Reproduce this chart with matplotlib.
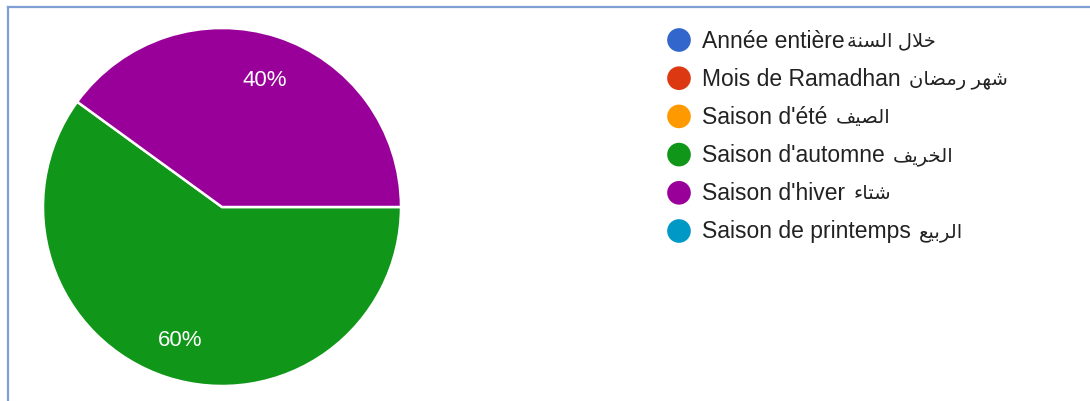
import matplotlib
matplotlib.use('Agg')
import matplotlib.pyplot as plt

# answers: French label, Arabic label, share (%), colour
labels_fr = ["Année entière", "Mois de Ramadhan ", "Saison d'été ",
             "Saison d'automne ", "Saison d'hiver ", "Saison de printemps "]
labels_ar = ["خلال السنة", "شهر رمضان", "الصيف", "الخريف", "شتاء", "الربيع"]
shares = [0, 0, 0, 60, 40, 0]
colors = ["#3366cc", "#dc3912", "#ff9900", "#109618", "#990099", "#0099c6"]

# Arabic presentation forms: isolated, final, initial, medial
FORMS = {
    'ا': ('\uFE8D', '\uFE8E', None, None),
    'ب': ('\uFE8F', '\uFE90', '\uFE91', '\uFE92'),
    'ة': ('\uFE93', '\uFE94', None, None),
    'ت': ('\uFE95', '\uFE96', '\uFE97', '\uFE98'),
    'خ': ('\uFEA5', '\uFEA6', '\uFEA7', '\uFEA8'),
    'ر': ('\uFEAD', '\uFEAE', None, None),
    'س': ('\uFEB1', '\uFEB2', '\uFEB3', '\uFEB4'),
    'ش': ('\uFEB5', '\uFEB6', '\uFEB7', '\uFEB8'),
    'ص': ('\uFEB9', '\uFEBA', '\uFEBB', '\uFEBC'),
    'ض': ('\uFEBD', '\uFEBE', '\uFEBF', '\uFEC0'),
    'ع': ('\uFEC9', '\uFECA', '\uFECB', '\uFECC'),
    'ف': ('\uFED1', '\uFED2', '\uFED3', '\uFED4'),
    'ل': ('\uFEDD', '\uFEDE', '\uFEDF', '\uFEE0'),
    'م': ('\uFEE1', '\uFEE2', '\uFEE3', '\uFEE4'),
    'ن': ('\uFEE5', '\uFEE6', '\uFEE7', '\uFEE8'),
    'ه': ('\uFEE9', '\uFEEA', '\uFEEB', '\uFEEC'),
    'ي': ('\uFEF1', '\uFEF2', '\uFEF3', '\uFEF4'),
    'ء': ('\uFE80', None, None, None),
    'لا': ('\uFEFB', '\uFEFC', None, None),
}


def shape_arabic(text):
    # matplotlib has no text shaping, so join the letters by hand and flip to visual order
    chars = []
    i = 0
    while i < len(text):
        if text[i] == 'ل' and i + 1 < len(text) and text[i + 1] == 'ا':
            chars.append('لا')
            i += 2
        else:
            chars.append(text[i])
            i += 1
    out = []
    for k, c in enumerate(chars):
        if c not in FORMS:
            out.append(c)
            continue
        prev = chars[k - 1] if k > 0 else None
        nxt = chars[k + 1] if k + 1 < len(chars) else None
        join_prev = (prev in FORMS and FORMS[prev][2] is not None
                     and FORMS[c][1] is not None)
        join_next = (nxt in FORMS and FORMS[c][2] is not None
                     and FORMS[nxt][1] is not None)
        iso, fin, ini, med = FORMS[c]
        if join_prev and join_next:
            out.append(med)
        elif join_prev:
            out.append(fin)
        elif join_next:
            out.append(ini)
        else:
            out.append(iso)
    return ''.join(out)[::-1]


W, H = 1090, 402
fig = plt.figure(figsize=(W / 100, H / 100), dpi=100)
fonts = ['Liberation Sans', 'DejaVu Sans']

# pie, centred at (222, 208) px with radius 179 px
r = 179
ax = fig.add_axes([(222 - r) / W, (H - 208 - r) / H, 2 * r / W, 2 * r / H])
vals = [v for v in shares if v > 0]
cols = [c for v, c in zip(shares, colors) if v > 0]
wedges, texts, autotexts = ax.pie(
    vals, colors=cols, startangle=144, counterclock=True,
    autopct='%1.0f%%', pctdistance=0.765,
    wedgeprops=dict(edgecolor='white', linewidth=1.8),
    textprops=dict(color='white', fontsize=16, family=fonts))
for t in autotexts:
    # nudge the percentages down a couple of pixels
    t.set_y(t.get_position()[1] - 0.015)
ax.set_xlim(-1, 1)
ax.set_ylim(-1, 1)
ax.set_aspect('equal')
ax.axis('off')

# overlay in pixel units for the legend and the frame
ov = fig.add_axes([0, 0, 1, 1], zorder=-1)
ov.set_xlim(0, W)
ov.set_ylim(H, 0)
ov.axis('off')

ov.plot([8, W], [8, 8], color='#7f9fd4', lw=1.6)
ov.plot([8, 8], [8, H], color='#7f9fd4', lw=1.6)

fig.canvas.draw()
renderer = fig.canvas.get_renderer()

row_y0, row_step = 41, 38.2
for i, (fr, ar, c) in enumerate(zip(labels_fr, labels_ar, colors)):
    y = row_y0 + i * row_step
    ov.scatter([679], [y], s=290, color=c, edgecolors='none')
    t = ov.text(702, y, fr, va='center', ha='left',
                fontsize=16.5, color='#222222', family=fonts)
    # Arabic part set a bit smaller, right after the French text
    x_end = t.get_window_extent(renderer).x1
    ov.text(x_end + 2, y + 1, shape_arabic(ar), va='center', ha='left',
            fontsize=14, color='#222222', family=fonts)

fig.savefig('out.png', dpi=100)
